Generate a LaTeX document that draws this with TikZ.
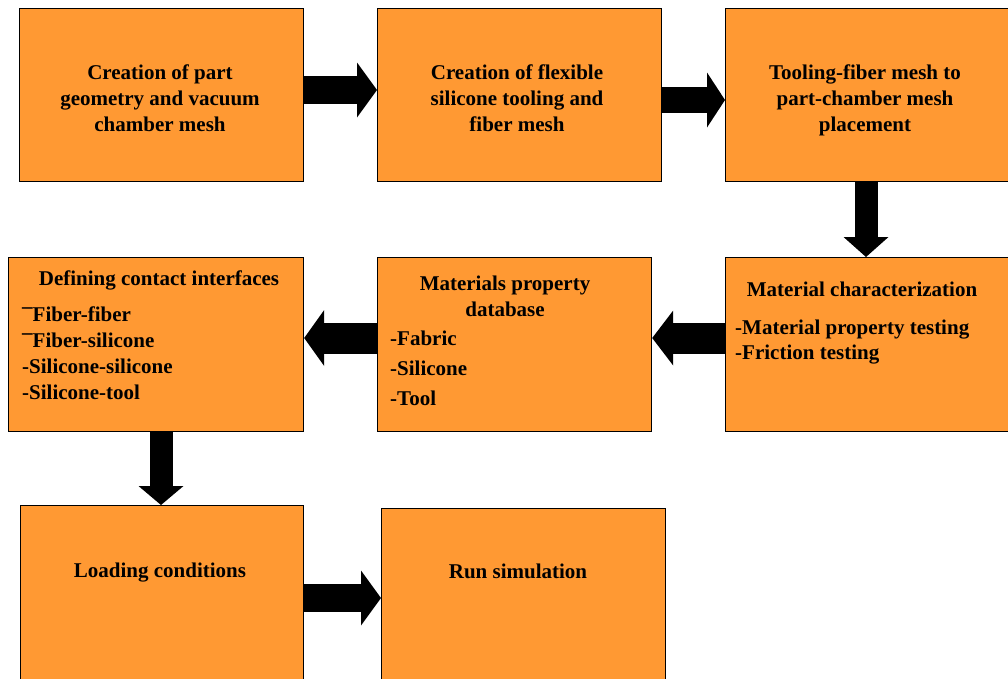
\documentclass[tikz,border=0pt]{standalone}
\usepackage{fontspec}
\setmainfont{Liberation Serif}
\usetikzlibrary{arrows.meta}
\definecolor{boxorange}{HTML}{FF9933}
\newcommand{\mybar}{\raisebox{-2.5pt}{¯}}
\begin{document}
\begin{tikzpicture}[x=1pt,y=-1pt,
  font=\fontsize{21}{26}\selectfont\bfseries,
  box/.style={draw=black, line width=1.2pt, fill=boxorange, inner sep=0pt, anchor=north west},
  txt/.style={inner sep=0pt, align=center},
  lst/.style={inner sep=0pt, align=left, anchor=west},
  blockarrow/.style n args={3}{draw=black, line width=#1, -{Triangle[width=#2,length=#3,line width=0pt]}}]
\useasboundingbox (0,0) rectangle (1008,678);
\clip (0,0) rectangle (1008,678);
% boxes
\node[box, minimum width=284pt, minimum height=173pt] (b1) at (19,8) {};
\node[box, minimum width=284pt, minimum height=173pt] (b2) at (377,8) {};
\node[box, minimum width=290pt, minimum height=173pt] (b3) at (725,8) {};
\node[box, minimum width=295pt, minimum height=174pt] (b4) at (8,257) {};
\node[box, minimum width=274pt, minimum height=174pt] (b5) at (377,257) {};
\node[box, minimum width=290pt, minimum height=174pt] (b6) at (725,257) {};
\node[box, minimum width=283pt, minimum height=190pt] (b7) at (20,505) {};
\node[box, minimum width=284pt, minimum height=190pt] (b8) at (381,508) {};
% texts
\node[txt] (t1) at (160,98) {Creation of part\\geometry and vacuum\\chamber mesh};
\node[txt] (t2) at (517,98) {Creation of flexible\\silicone tooling and\\fiber mesh};
\node[txt] (t3) at (865,100) {Tooling-fiber mesh to\\part-chamber mesh\\placement};
\node[txt] (t4) at (159,280) {Defining contact interfaces};
\node[lst, text depth=0pt] (l4) at (22,353) {\mybar Fiber-fiber\\\mybar Fiber-silicone\\-Silicone-silicone\\-Silicone-tool};
\node[txt] (t5) at (505,296) {Materials property\\database};
\node[lst, font=\fontsize{21}{30}\selectfont\bfseries] (l5) at (390,368) {-Fabric\\-Silicone\\-Tool};
\node[txt] (t6) at (862,289) {Material characterization};
\node[lst, font=\fontsize{21}{25}\selectfont\bfseries] (l6) at (735,342.5) {-Material property testing\\-Friction testing};
\node[txt] (t7) at (160,573) {Loading conditions};
\node[txt] (t8) at (518,571) {Run simulation};
% arrows
\draw[blockarrow={28pt}{55pt}{20pt}] (b1.east |- 0,90) -- (b2.west |- 0,90);
\draw[blockarrow={26pt}{55pt}{18pt}] (b2.east |- 0,100) -- (b3.west |- 0,100);
\draw[blockarrow={23pt}{45pt}{20pt}] (b3.south -| 866,0) -- (b6.north -| 866,0);
\draw[blockarrow={31pt}{55pt}{21pt}] (b6.west |- 0,338) -- (b5.east |- 0,338);
\draw[blockarrow={31pt}{56pt}{20pt}] (b5.west |- 0,338) -- (b4.east |- 0,338);
\draw[blockarrow={23pt}{45pt}{19pt}] (b4.south -| 161,0) -- (b7.north -| 161,0);
\draw[blockarrow={28pt}{55pt}{20pt}] (b7.east |- 0,598) -- (b8.west |- 0,598);
\end{tikzpicture}
\end{document}
